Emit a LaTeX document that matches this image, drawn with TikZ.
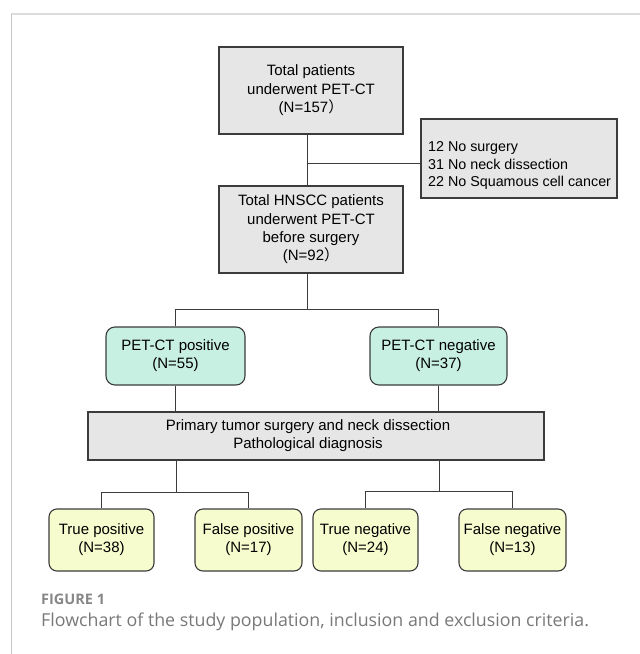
\documentclass[tikz,border=0pt]{standalone}
\usepackage{fontspec}
\setmainfont{Liberation Sans}
\newfontfamily\capfont{Open Sans}
\newfontfamily\cjk{Noto Sans CJK SC}
\definecolor{boxgray}{RGB}{230,230,230}
\definecolor{mint}{RGB}{200,240,226}
\definecolor{paleyellow}{RGB}{246,252,205}
\definecolor{edge}{RGB}{60,60,60}
\definecolor{framegray}{RGB}{220,220,220}
\definecolor{capgray}{RGB}{120,120,120}
\definecolor{labgray}{RGB}{135,135,135}
\tikzset{
  gbox/.style={draw=edge, line width=1.1pt, fill=boxgray, align=center, inner sep=0pt,
    font=\fontsize{15pt}{18.4pt}\selectfont},
  mbox/.style={draw=edge, line width=1.1pt, fill=mint, rounded corners=9pt, align=center, inner sep=0pt,
    minimum width=138pt, minimum height=58pt, font=\fontsize{15pt}{18pt}\selectfont},
  ybox/.style={draw=edge, line width=1.1pt, fill=paleyellow, rounded corners=8pt, align=center, inner sep=0pt,
    minimum height=62pt, font=\fontsize{15pt}{18pt}\selectfont},
  conn/.style={draw=edge, line width=0.9pt},
}
\begin{document}
\begin{tikzpicture}[x=1pt,y=-1pt]
\useasboundingbox (0,0) rectangle (640,654);
% frame
\draw[framegray, line width=2pt] (11,14) -- (640,14);
\draw[black!22, line width=1pt] (11,14) -- (11,654);
% boxes
\node[gbox, minimum width=184pt, minimum height=87pt] (top) at (311,90.5)
  {Total patients\\underwent PET-CT\\(N=157{\cjk ）}};
\node[gbox, minimum width=196pt, minimum height=79pt] (excl) at (519,158.5) {};
\node[anchor=west, inner sep=0pt, align=left, font=\fontsize{14.3pt}{17.5pt}\selectfont] (excltxt) at (428,165.5)
  {12 No surgery\\31 No neck dissection\\22 No Squamous cell cancer};
\node[gbox, minimum width=184pt, minimum height=87pt] (hn) at (311,229.5)
  {Total HNSCC patients\\underwent PET-CT\\before surgery\\(N=92{\cjk ）}};
\node[mbox, minimum width=139pt] (pos) at (175.5,356) {PET-CT positive\\(N=55)};
\node[mbox, minimum width=137pt] (neg) at (438.5,356) {PET-CT negative\\(N=37)};
\node[gbox, minimum width=456pt, minimum height=48pt, font=\fontsize{15pt}{18pt}\selectfont] (proc) at (316,436)
  {\hspace*{-16pt}Primary tumor surgery and neck dissection\\\hspace*{-16pt}Pathological diagnosis};
\node[ybox, minimum width=105pt] (tp) at (101.5,540) {True positive\\(N=38)};
\node[ybox, minimum width=107pt] (fp) at (248.5,540) {False positive\\(N=17)};
\node[ybox, minimum width=105pt] (tn) at (365.5,540) {True negative\\(N=24)};
\node[ybox, minimum width=107pt] (fn) at (512.5,540) {False negative\\(N=13)};
% junctions
\coordinate (j1) at (307,163);
\coordinate (j2) at (307,309);
\coordinate (j3) at (176,492);
\coordinate (j4) at (439,491);
% connectors
\draw[conn] ([xshift=-4pt]top.south) -- ([xshift=-4pt]hn.north);
\draw[conn] (j1) -- (j1 -| excl.west);
\draw[conn] ([xshift=-4pt]hn.south) -- (j2);
\draw[conn] (pos.north) -- (pos.north |- j2) -- (neg.north |- j2) -- (neg.north);
\draw[conn] (pos.south) -- (pos.south |- proc.north);
\draw[conn] (neg.south) -- (neg.south |- proc.north);
\draw[conn] (j3 |- proc.south) -- (j3);
\draw[conn] (tp.north) -- (tp.north |- j3) -- (fp.north |- j3) -- (fp.north);
\draw[conn] (j4 |- proc.south) -- (j4);
\draw[conn] (tn.north) -- (tn.north |- j4) -- (fn.north |- j4) -- (fn.north);
% caption
\node[anchor=west, inner sep=0pt, text=labgray, font=\capfont\bfseries\fontsize{14.5pt}{17pt}\selectfont] (figlab) at (41,599) {FIGURE 1};
\node[anchor=west, inner sep=0pt, text=capgray, font=\capfont\fontsize{17.8pt}{21pt}\selectfont] (cap) at (41,622)
  {Flowchart of the study population, inclusion and exclusion criteria.};
\end{tikzpicture}
\end{document}
